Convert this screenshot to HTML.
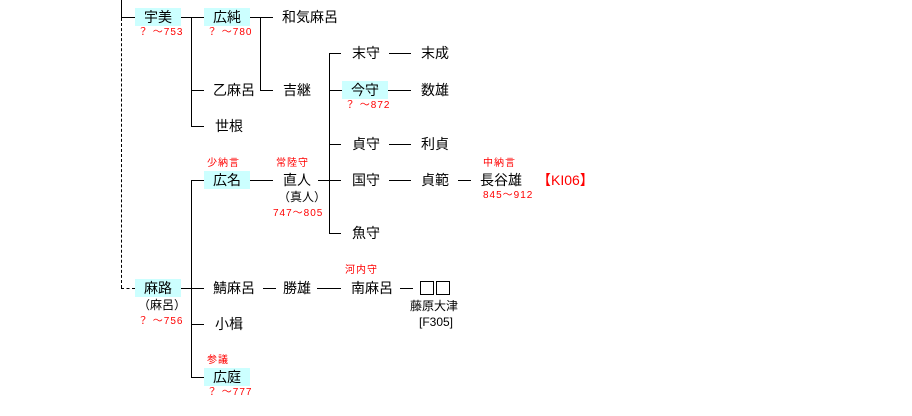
<!DOCTYPE html>
<html><head><meta charset="utf-8"><style>
body{margin:0;width:912px;height:416px;background:#fff;position:relative;overflow:hidden;font-family:"Liberation Sans","Noto Sans CJK JP",sans-serif;}
.t{position:absolute;font-size:14px;line-height:18px;height:18px;color:#000;white-space:nowrap;}
.b{position:absolute;background:#ccffff;font-size:14px;line-height:18px;height:18px;width:46px;text-align:center;}
.r{position:absolute;font-size:10px;line-height:12px;color:#f00;white-space:nowrap;letter-spacing:1px;}
.s{position:absolute;font-size:12px;line-height:14px;color:#000;white-space:nowrap;}
.h{position:absolute;height:0;border-top:1px solid #000;}
.v{position:absolute;width:0;border-left:1px solid #000;}
.q{position:absolute;width:12px;height:12px;border:1px solid #000;top:281px;}
</style></head><body>
<div class="v" style="left:121px;top:0;height:17px"></div>
<div class="h" style="left:121px;top:17px;width:14px"></div>
<div class="v" style="left:121px;top:18px;height:270px;border-left:1px dashed #000"></div>
<div class="h" style="left:121px;top:288px;width:14px;border-top:1px dashed #000"></div>

<div class="b" style="left:135px;top:8px">宇美</div>
<div class="r" style="left:138px;top:27px">？ ～753</div>
<div class="h" style="left:181px;top:17px;width:23px"></div>
<div class="v" style="left:191px;top:17px;height:109px"></div>
<div class="h" style="left:191px;top:90px;width:13px"></div>
<div class="h" style="left:191px;top:126px;width:13px"></div>
<div class="b" style="left:204px;top:8px">広純</div>
<div class="r" style="left:207px;top:27px">？ ～780</div>
<div class="h" style="left:250px;top:17px;width:23px"></div>
<div class="v" style="left:260px;top:17px;height:73px"></div>
<div class="h" style="left:260px;top:90px;width:13px"></div>
<div class="t" style="left:282px;top:8px">和気麻呂</div>
<div class="t" style="left:213px;top:81px">乙麻呂</div>
<div class="t" style="left:283px;top:81px">吉継</div>
<div class="t" style="left:215px;top:117px">世根</div>

<div class="v" style="left:329px;top:53px;height:180px"></div>
<div class="h" style="left:329px;top:53px;width:12px"></div>
<div class="h" style="left:329px;top:90px;width:13px"></div>
<div class="h" style="left:329px;top:144px;width:12px"></div>
<div class="h" style="left:318px;top:180px;width:23px"></div>
<div class="h" style="left:329px;top:233px;width:12px"></div>
<div class="t" style="left:352px;top:44px">末守</div>
<div class="h" style="left:389px;top:53px;width:22px"></div>
<div class="t" style="left:421px;top:44px">末成</div>
<div class="b" style="left:342px;top:81px">今守</div>
<div class="r" style="left:345px;top:100px">？ ～872</div>
<div class="h" style="left:388px;top:90px;width:23px"></div>
<div class="t" style="left:421px;top:81px">数雄</div>
<div class="t" style="left:352px;top:135px">貞守</div>
<div class="h" style="left:389px;top:144px;width:22px"></div>
<div class="t" style="left:421px;top:135px">利貞</div>
<div class="t" style="left:352px;top:171px">国守</div>
<div class="h" style="left:389px;top:180px;width:22px"></div>
<div class="t" style="left:421px;top:171px">貞範</div>
<div class="h" style="left:458px;top:180px;width:13px"></div>
<div class="r" style="left:483px;top:158px">中納言</div>
<div class="t" style="left:480px;top:171px">長谷雄</div>
<div class="r" style="left:483px;top:190px">845～912</div>
<div class="t" style="left:537px;top:171px;color:#f00">【KI06】</div>
<div class="t" style="left:352px;top:224px">魚守</div>

<div class="r" style="left:207px;top:158px">少納言</div>
<div class="b" style="left:204px;top:171px">広名</div>
<div class="h" style="left:250px;top:180px;width:23px"></div>
<div class="r" style="left:276px;top:158px">常陸守</div>
<div class="t" style="left:283px;top:171px">直人</div>
<div class="s" style="left:278px;top:190px">（真人）</div>
<div class="r" style="left:273px;top:208px">747～805</div>

<div class="v" style="left:191px;top:180px;height:197px"></div>
<div class="h" style="left:191px;top:180px;width:13px"></div>
<div class="h" style="left:181px;top:288px;width:23px"></div>
<div class="h" style="left:191px;top:324px;width:13px"></div>
<div class="h" style="left:191px;top:377px;width:13px"></div>

<div class="b" style="left:135px;top:279px">麻路</div>
<div class="s" style="left:138px;top:298px">（麻呂）</div>
<div class="r" style="left:138px;top:316px">？ ～756</div>
<div class="t" style="left:213px;top:279px">鯖麻呂</div>
<div class="h" style="left:263px;top:288px;width:13px"></div>
<div class="t" style="left:283px;top:279px">勝雄</div>
<div class="h" style="left:317px;top:288px;width:24px"></div>
<div class="r" style="left:345px;top:265px">河内守</div>
<div class="t" style="left:351px;top:279px">南麻呂</div>
<div class="h" style="left:400px;top:288px;width:13px"></div>
<div class="q" style="left:420px"></div>
<div class="q" style="left:436px"></div>
<div class="s" style="left:410px;top:299px">藤原大津</div>
<div class="s" style="left:419px;top:315px">[F305]</div>
<div class="t" style="left:215px;top:315px">小楫</div>
<div class="r" style="left:207px;top:355px">参議</div>
<div class="b" style="left:204px;top:368px">広庭</div>
<div class="r" style="left:207px;top:387px">？ ～777</div>
</body></html>
